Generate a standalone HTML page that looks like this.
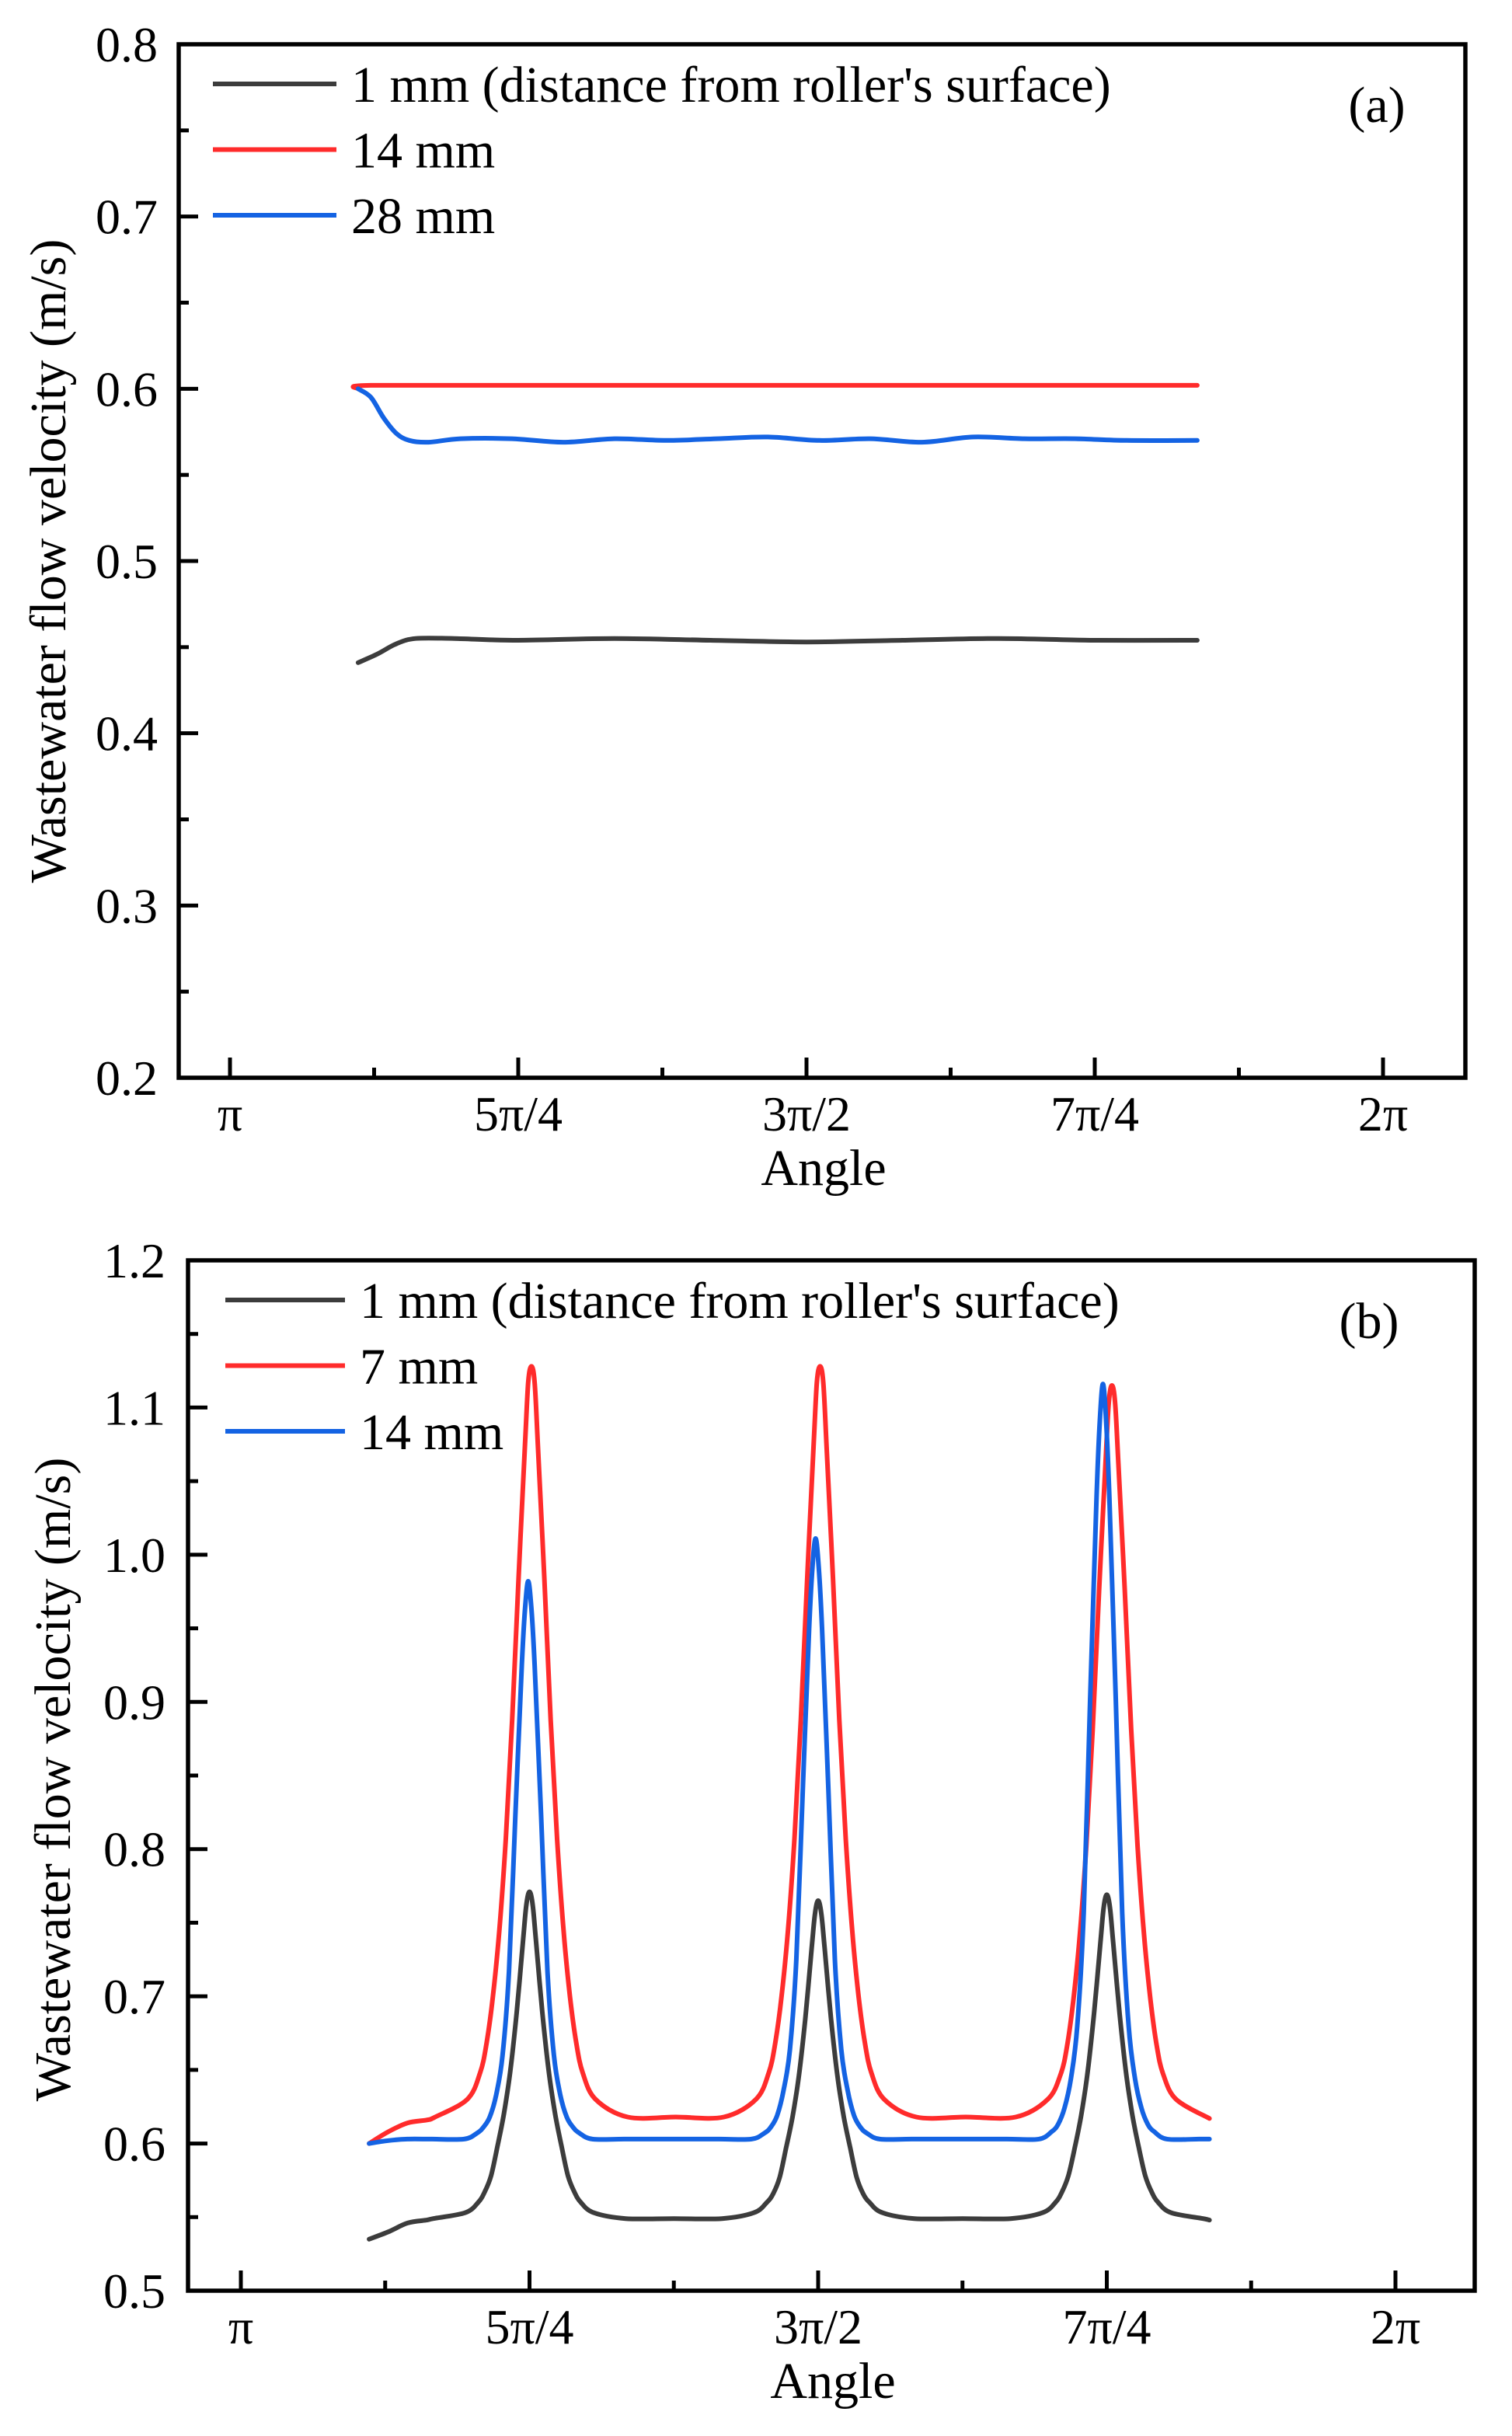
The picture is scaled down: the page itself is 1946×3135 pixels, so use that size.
<!DOCTYPE html>
<html><head><meta charset="utf-8"><style>
html,body{margin:0;padding:0;background:#fff;}
svg{display:block;font-family:"Liberation Serif",serif;}
</style></head><body>
<svg id="fig" width="1946" height="3135" viewBox="0 0 1946 3135" xmlns="http://www.w3.org/2000/svg">
<rect width="1946" height="3135" fill="#fff"/>
</svg>
<script>
// ---------- Panel (a) data ----------
const xTickLabels = ["π","5π/4","3π/2","7π/4","2π"];
const xTickDeg = [180,225,270,315,360];
const xMinorDeg = [202.5,247.5,292.5,337.5];
const aYTicks = [0.2,0.3,0.4,0.5,0.6,0.7,0.8];
const aSeriesNames = ["1 mm (distance from roller's surface)","14 mm","28 mm"];
const aBlackDeg = [200,203,206,209,215,225,240,255,270,285,300,315,331];
const aBlackVal = [0.441,0.446,0.452,0.455,0.455,0.454,0.455,0.454,0.453,0.454,0.455,0.454,0.454];
const aRedDeg = [200,202,230,270,300,331];
const aRedVal = [0.600,0.602,0.602,0.602,0.602,0.602];
const aBlueDeg = [200,202,204,206,208,211,216,224,232,240,248,256,264,272,280,288,296,304,312,320,331];
const aBlueVal = [0.600,0.595,0.583,0.574,0.570,0.569,0.571,0.571,0.569,0.571,0.570,0.571,0.572,0.570,0.571,0.569,0.572,0.571,0.571,0.570,0.570];

// ---------- Panel (b) data ----------
const bYTicks = [0.5,0.6,0.7,0.8,0.9,1.0,1.1,1.2];
const bSeriesNames = ["1 mm (distance from roller's surface)","7 mm","14 mm"];
const bBlackDeg = [200,203,206,209,
 210,215,217,218,219,220,221,222,223,224,224.5,225,225.5,226,227,228,229,230,231,232,233,235,240,
 247.5,
 255,260,262,263,264,265,266,267,268,269,269.5,270,270.5,271,272,273,274,275,276,277,278,280,285,
 292.5,
 300,305,307,308,309,310,311,312,313,314,314.5,315,315.5,316,317,318,319,320,321,322,323,325,330,331];
const bBlackVal = [0.535,0.540,0.546,0.548,
 0.549,0.553,0.560,0.567,0.578,0.598,0.620,0.649,0.689,0.738,0.762,0.771,0.762,0.738,0.689,0.649,0.620,0.598,0.578,0.567,0.560,0.553,0.549,
 0.549,
 0.549,0.553,0.560,0.566,0.577,0.597,0.618,0.646,0.685,0.733,0.756,0.765,0.756,0.733,0.685,0.646,0.618,0.597,0.577,0.566,0.560,0.553,0.549,
 0.549,
 0.549,0.553,0.560,0.567,0.578,0.597,0.619,0.648,0.688,0.736,0.760,0.769,0.760,0.736,0.688,0.648,0.619,0.597,0.578,0.567,0.560,0.553,0.549,0.548];
const bRedDeg = [200,203,206,209,
 210.3,215.3,217.3,218.3,219.3,220.3,221.3,222.3,223.3,224.3,224.8,225.3,225.8,226.3,227.3,228.3,229.3,230.3,231.3,232.3,233.3,235.3,240.3,
 247.8,
 255.3,260.3,262.3,263.3,264.3,265.3,266.3,267.3,268.3,269.3,269.8,270.3,270.8,271.3,272.3,273.3,274.3,275.3,276.3,277.3,278.3,280.3,285.3,
 293,
 300.8,305.8,307.8,308.8,309.8,310.8,311.8,312.8,313.8,314.8,315.3,315.8,316.3,316.8,317.8,318.8,319.8,320.8,321.8,322.8,323.8,325.8,331];
const bRedVal = [0.600,0.608,0.614,0.616,
 0.618,0.630,0.648,0.668,0.700,0.745,0.807,0.888,0.985,1.075,1.117,1.128,1.117,1.075,0.985,0.888,0.807,0.745,0.700,0.668,0.648,0.630,0.618,
 0.618,
 0.618,0.630,0.648,0.668,0.700,0.745,0.807,0.888,0.985,1.075,1.117,1.128,1.117,1.075,0.985,0.888,0.807,0.745,0.700,0.668,0.648,0.630,0.618,
 0.618,
 0.618,0.630,0.647,0.666,0.698,0.742,0.802,0.881,0.976,1.062,1.103,1.115,1.103,1.062,0.976,0.881,0.802,0.742,0.698,0.666,0.647,0.630,0.617];
const bBlueDeg = [200,203,206,209,
 209.8,214.8,216.8,217.8,218.8,219.8,220.8,221.8,222.8,223.8,224.3,224.8,225.3,225.8,226.8,227.8,228.8,229.8,230.8,231.8,232.8,234.8,239.8,
 247.2,
 254.6,259.6,261.6,262.6,263.6,264.6,265.6,266.6,267.6,268.6,269.1,269.6,270.1,270.6,271.6,272.6,273.6,274.6,275.6,276.6,277.6,279.6,284.6,
 292,
 299.4,304.4,306.4,307.4,308.4,309.4,310.4,311.4,312.4,313.4,313.9,314.4,314.9,315.4,316.4,317.4,318.4,319.4,320.4,321.4,322.4,324.4,329.4,331];
const bBlueVal = [0.600,0.602,0.603,0.603,
 0.603,0.603,0.607,0.611,0.618,0.633,0.660,0.717,0.823,0.925,0.963,0.982,0.963,0.925,0.823,0.717,0.660,0.633,0.618,0.611,0.607,0.603,0.603,
 0.603,
 0.603,0.603,0.607,0.611,0.619,0.636,0.664,0.725,0.840,0.950,0.991,1.011,0.991,0.950,0.840,0.725,0.664,0.636,0.619,0.611,0.607,0.603,0.603,
 0.603,
 0.603,0.603,0.608,0.613,0.624,0.644,0.680,0.757,0.901,1.039,1.090,1.116,1.090,1.039,0.901,0.757,0.680,0.644,0.624,0.613,0.608,0.603,0.603,0.603];

const COL_BLACK="#3c3c3c", COL_RED="#ff2b2b", COL_BLUE="#1463e3";
const NS="http://www.w3.org/2000/svg";
const svg=document.getElementById('fig');
function mk(tag,attrs,parent){const e=document.createElementNS(NS,tag);for(const k in attrs)e.setAttribute(k,attrs[k]);(parent||svg).appendChild(e);return e;}

function smoothPath(pts){
  let d="M"+pts[0][0].toFixed(1)+","+pts[0][1].toFixed(1);
  for(let i=0;i<pts.length-1;i++){
    const p0=pts[i-1]||pts[i],p1=pts[i],p2=pts[i+1],p3=pts[i+2]||pts[i+1];
    const c1x=p1[0]+(p2[0]-p0[0])/6,c1y=p1[1]+(p2[1]-p0[1])/6;
    const c2x=p2[0]-(p3[0]-p1[0])/6,c2y=p2[1]-(p3[1]-p1[1])/6;
    d+=" C"+c1x.toFixed(1)+","+c1y.toFixed(1)+" "+c2x.toFixed(1)+","+c2y.toFixed(1)+" "+p2[0].toFixed(1)+","+p2[1].toFixed(1);
  }
  return d;
}

function panel(cfg){
  const g=mk('g',{});
  
  
  const X=deg=>cfg.x0+(deg-180)/45*cfg.xs;
  const Y=v=>cfg.top+(cfg.ymax-v)/(cfg.ymax-cfg.ymin)*(cfg.bottom-cfg.top);
  cfg.series.forEach(s=>{
    const pts=s.deg.map((d,i)=>[X(d),Y(s.val[i])]);
    const p=mk('path',{d:smoothPath(pts),fill:'none',stroke:s.color,'stroke-width':6,'stroke-linejoin':'round','stroke-linecap':'round'},g);
    
    
  });
  const box=mk('rect',{x:cfg.left,y:cfg.top,width:cfg.right-cfg.left,height:cfg.bottom-cfg.top,fill:'none',stroke:'#000','stroke-width':5.5},g);
  
  
  cfg.yTicks.forEach((v,i)=>{
    const y=Y(v);
    const t=mk('line',{x1:cfg.left,x2:cfg.left+25,y1:y,y2:y,stroke:'#000','stroke-width':5},g);
    
    
    const lb=mk('text',{x:cfg.ylabX,y:y+22,'text-anchor':'end','font-size':64,fill:'#000'},g);
    lb.textContent=v.toFixed(1);
    
    
    if(i<cfg.yTicks.length-1){
      const ym=Y(v+0.05);
      const m=mk('line',{x1:cfg.left,x2:cfg.left+13,y1:ym,y2:ym,stroke:'#000','stroke-width':5},g);
      
      
    }
  });
  xTickDeg.forEach((d,i)=>{
    const x=X(d);
    const t=mk('line',{x1:x,x2:x,y1:cfg.bottom,y2:cfg.bottom-26,stroke:'#000','stroke-width':5},g);
    
    
    const lb=mk('text',{x:x,y:cfg.bottom+68,'text-anchor':'middle','font-size':64,fill:'#000'},g);
    lb.textContent=xTickLabels[i];
    
    
  });
  xMinorDeg.forEach(d=>{
    const x=X(d);
    const m=mk('line',{x1:x,x2:x,y1:cfg.bottom,y2:cfg.bottom-13,stroke:'#000','stroke-width':5},g);
    
    
  });
  const xt=mk('text',{x:cfg.xTitleX,y:cfg.bottom+138,'text-anchor':'middle','font-size':66,fill:'#000'},g);
  xt.textContent="Angle";
  
  
  const yt=mk('text',{x:0,y:0,'text-anchor':'middle','font-size':66,fill:'#000',transform:`translate(${cfg.yTitleX},${cfg.yTitleY}) rotate(-90)`},g);
  yt.textContent="Wastewater flow velocity (m/s)";
  
  
  cfg.series.forEach((s,i)=>{
    const ly=cfg.top+51+i*84.5;
    const ln=mk('line',{x1:cfg.legX1,x2:cfg.legX2,y1:ly,y2:ly,stroke:s.color,'stroke-width':6},g);
    
    
    const tx=mk('text',{x:cfg.legX2+19,y:ly+23,'font-size':66,fill:'#000'},g);
    tx.textContent=s.label;
    
    
  });
  const pl=mk('text',{x:cfg.tagX,y:cfg.top+100,'text-anchor':'middle','font-size':66,fill:'#000'},g);
  pl.textContent=cfg.tag;
  
  
}

panel({name:'panel-a',tag:'(a)',left:230,right:1886,top:57,bottom:1387,x0:296,xs:371,ymin:0.2,ymax:0.8,
  yTicks:aYTicks,ylabX:203,xTitleX:1060,yTitleX:84,yTitleY:722,legX1:274,legX2:433,tagX:1772,
  series:[
    {id:'series-a-1mm',label:aSeriesNames[0],color:COL_BLACK,deg:aBlackDeg,val:aBlackVal},
    {id:'series-a-14mm',label:aSeriesNames[1],color:COL_RED,deg:aRedDeg,val:aRedVal},
    {id:'series-a-28mm',label:aSeriesNames[2],color:COL_BLUE,deg:aBlueDeg,val:aBlueVal}]});

panel({name:'panel-b',tag:'(b)',left:242,right:1898,top:1622,bottom:2948,x0:310,xs:371.5,ymin:0.5,ymax:1.2,
  yTicks:bYTicks,ylabX:213,xTitleX:1072,yTitleX:90,yTitleY:2290,legX1:290,legX2:444,tagX:1762,
  series:[
    {id:'series-b-1mm',label:bSeriesNames[0],color:COL_BLACK,deg:bBlackDeg,val:bBlackVal},
    {id:'series-b-7mm',label:bSeriesNames[1],color:COL_RED,deg:bRedDeg,val:bRedVal},
    {id:'series-b-14mm',label:bSeriesNames[2],color:COL_BLUE,deg:bBlueDeg,val:bBlueVal}]});
</script>
</body></html>
